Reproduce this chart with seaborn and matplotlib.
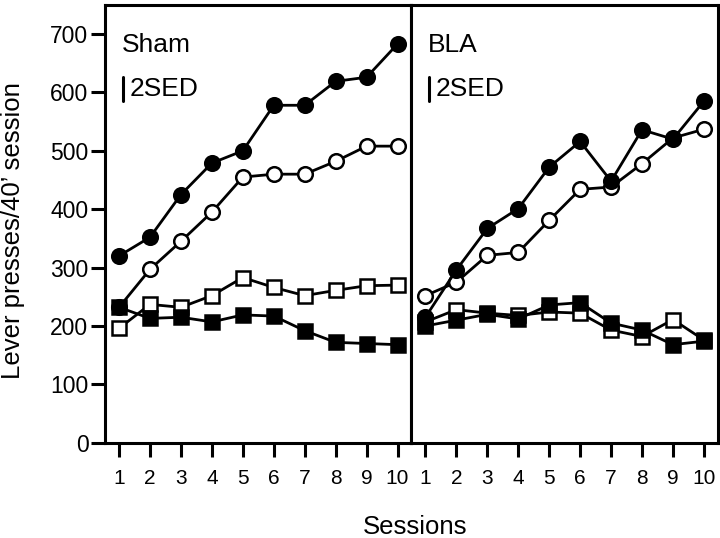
import numpy as np
import pandas as pd
import matplotlib
matplotlib.use("Agg")
import matplotlib.pyplot as plt
import seaborn as sns

# Data
sessions = list(range(1, 11))

sham_filled_circle = [320, 352, 425, 479, 500, 578, 578, 619, 626, 683]
sham_open_circle = [232, 297, 345, 395, 455, 460, 460, 482, 508, 508]
sham_open_square = [196, 237, 232, 252, 283, 266, 252, 261, 269, 270]
sham_filled_square = [232, 213, 215, 207, 219, 217, 192, 172, 170, 168]

bla_filled_circle = [215, 296, 367, 401, 472, 516, 448, 536, 520, 585]
bla_open_circle = [252, 275, 321, 326, 381, 434, 438, 478, 522, 537]
bla_open_square = [207, 228, 222, 218, 224, 222, 193, 182, 211, 176]
bla_filled_square = [200, 210, 220, 212, 236, 240, 205, 193, 168, 174]

panel_names = ["Sham", "BLA"]
sed_value = 42  # length of the 2SED bar

sns.set_theme(style="white")
plt.rcParams['font.family'] = ['Liberation Sans', 'DejaVu Sans']
plt.rcParams['text.color'] = 'black'

fig, axes = plt.subplots(1, 2, figsize=(7.2, 5.38), dpi=100, sharey=True)
fig.subplots_adjust(left=0.146, right=0.997, bottom=0.177, top=0.991, wspace=0)

panels = [
    (sham_open_square, sham_open_circle, sham_filled_circle, sham_filled_square),
    (bla_open_square, bla_open_circle, bla_filled_circle, bla_filled_square),
]

for ax, name, (osq, oci, fci, fsq) in zip(axes, panel_names, panels):
    df = pd.DataFrame({"session": sessions, "osq": osq, "oci": oci,
                       "fci": fci, "fsq": fsq})
    styles = [("osq", "s", "white"), ("oci", "o", "white"),
              ("fci", "o", "black"), ("fsq", "s", "black")]
    for col, mk, fc in styles:
        sns.lineplot(data=df, x="session", y=col, ax=ax, color="black",
                     linewidth=2, marker=mk, markersize=10.5,
                     markerfacecolor=fc, markeredgecolor="black",
                     markeredgewidth=1.8)
    ax.set_xlim(0.55, 10.45)
    ax.set_ylim(0, 750)
    ax.set_xticks(sessions)
    ax.set_xticklabels([str(s) for s in sessions])
    ax.set_yticks(range(0, 701, 100))
    ax.set_xlabel("")
    ax.set_ylabel("")
    for sp in ax.spines.values():
        sp.set_linewidth(2.2)
        sp.set_color("black")
    ax.tick_params(axis="x", direction="out", length=10, width=2.2,
                   labelsize=15, pad=9, colors="black", bottom=True)
    ax.tick_params(axis="y", direction="out", length=10, width=2.2,
                   labelsize=16.5, pad=2, colors="black", left=True)
    ax.text(1.08, 669, name, fontsize=19, ha="left", va="baseline")
    ax.plot([1.13, 1.13], [585, 585 + sed_value], color="black", linewidth=2.2)
    ax.text(1.33, 594, "2SED", fontsize=19, ha="left", va="baseline")

axes[1].tick_params(axis="y", left=False, labelleft=False)
fig.text(0.018, 1 - 231 / 538, "Lever presses/40\u2019 session", fontsize=18.5,
         rotation=90, ha="center", va="center")
fig.text(415 / 720, 1 - 534 / 538, "Sessions", fontsize=18.5,
         ha="center", va="baseline")

fig.savefig("out.png", dpi=100)
